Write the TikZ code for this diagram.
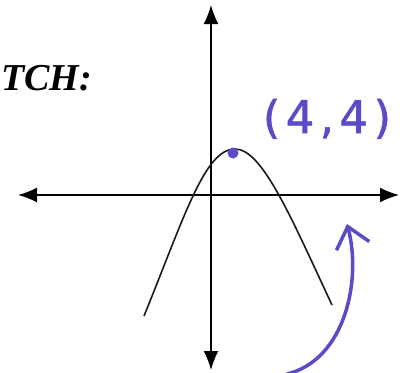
\documentclass[tikz,border=0pt]{standalone}
\usepackage{fontspec}
\usepackage{xcolor}
\usepackage{tikz}
\usetikzlibrary{arrows.meta}
\setmainfont{Liberation Serif}
\newfontfamily\handfont[LetterSpace=12,FakeBold=1.2]{DejaVu Sans}
\definecolor{tinta}{HTML}{5A4CC8}

\begin{document}
\begin{tikzpicture}[
    x=1pt, y=-1pt,
    axis/.style={
        {Latex[length=19pt,width=15pt]}-{Latex[length=19pt,width=15pt]},
        line width=1.6pt,
        color=black,
    },
    curva/.style={
        line width=1.6pt,
        color=black!90,
    },
    marca/.style={
        -{Straight Barb[length=20pt,width=34pt]},
        line width=3.5pt,
        line cap=round,
        color=tinta,
    },
    titulo/.style={
        anchor=base west,
        inner sep=0pt,
        font=\fontsize{38}{42}\selectfont\bfseries\itshape,
    },
    etiqueta/.style={
        anchor=base,
        inner sep=0pt,
        text=tinta,
        font=\fontsize{45}{50}\selectfont\handfont,
    },
]

\clip (0,0) rectangle (400,373);

\node[titulo] (boceto) at (1,90) {TCH:};

\coordinate (izq) at ( 18,195);
\coordinate (der) at (399,195);
\coordinate (arr) at (211,  5);
\coordinate (aba) at (211,370);

\draw[axis] (izq) -- (der);
\draw[axis] (arr) -- (aba);

\coordinate (vertice) at (235,149);
\draw[curva] (144,316) .. controls (185,215) and (205,149) .. (vertice)
                       .. controls (262,149) and (290,215) .. (332,305);

\fill[tinta] (233,153) circle (5.5pt);
\node[etiqueta] (punto) at (327,133) {(4,4)};

\coordinate (cola)  at (287,374);
\coordinate (punta) at (347,224);
\draw[marca] (cola) .. controls (345,360) and (362,280) .. (punta);

\end{tikzpicture}
\end{document}
